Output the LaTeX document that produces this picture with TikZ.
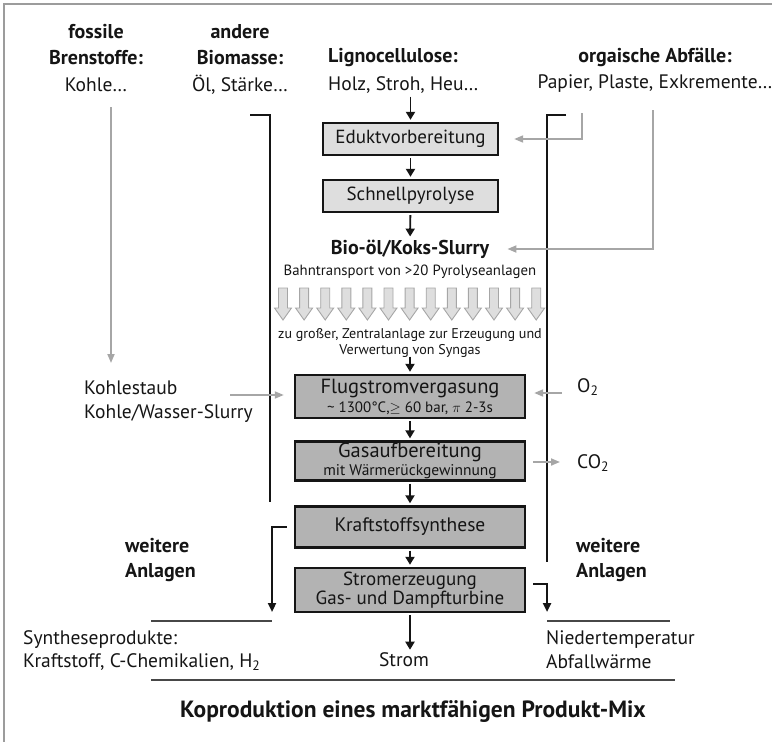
\documentclass[tikz,border=0pt]{standalone}
\usepackage{fontspec}
\setmainfont{PT Sans}
\usepackage{tikz}
\usetikzlibrary{arrows.meta,positioning,calc}
\definecolor{cInk}{HTML}{151515}
\definecolor{cArr}{HTML}{A6A6A6}
\definecolor{cLight}{HTML}{DEDEDE}
\definecolor{cMid}{HTML}{B3B3B3}
\definecolor{cRule}{HTML}{474747}
\definecolor{cFrame}{HTML}{9C9C9C}
\tikzset{
  >=Stealth,
  lab/.style  ={font=\fontsize{19.5}{22}\selectfont,inner sep=1pt,text=cInk},
  hdr/.style  ={lab,font=\fontsize{20}{22}\selectfont\bfseries},
  sml/.style  ={font=\fontsize{14.8}{16.5}\selectfont,inner sep=1pt,text=cInk,align=center},
  lbox/.style ={draw=cInk,line width=2.4pt,fill=cLight,minimum width=175pt,
                minimum height=32pt,font=\fontsize{19}{20}\selectfont,
                inner sep=1.5pt,align=center,text=cInk},
  gbox/.style ={lbox,fill=cMid,minimum width=230pt},
  ar/.style   ={-{Triangle[length=8pt,width=9pt]},line width=1.9pt,cInk,
                shorten <=2pt,shorten >=2pt},
  gar/.style  ={-{Triangle[length=9pt,width=7pt]},line width=1.8pt,cArr},
  brk/.style  ={line width=2.3pt,cInk},
  bar/.style  ={brk,-{Triangle[length=9pt,width=8pt]}},
  rule/.style ={line width=2.6pt,cRule},
  hollow/.style={draw=cArr,fill=cLight,line width=0.9pt,line join=miter},
}
\begin{document}
\begin{tikzpicture}[x=1pt,y=-1pt]
\useasboundingbox (0,0) rectangle (772,742);
\draw[cFrame,line width=1.2pt] (4,742) -- (4,4) -- (772,4);

% raw materials
\node[hdr] (fosT) at (96,32) {fossile};
\node[hdr] (fosB) at (96,58) {Brenstoffe:};
\node[lab] (fosK) at (96,85) {Kohle…};
\node[hdr] (bioT) at (240,32) {andere};
\node[hdr] (bioB) at (240,58) {Biomasse:};
\node[lab] (bioK) at (240,85) {Öl, Stärke…};
\node[hdr,anchor=west] (ligB) at (327,58) {Lignocellulose:};
\node[lab,anchor=west] (ligK) at (327,85) {Holz, Stroh, Heu…};
\node[hdr] (orgB) at (655,57) {orgaische Abfälle:};
\node[lab] (orgK) at (655,84) {Papier, Plaste, Exkremente…};

% main process chain
\node[lbox] (edukt) at (410.5,139) {Eduktvorbereitung};
\node[lbox] (pyro)  at (410.5,196) {Schnellpyrolyse};
\node[hdr]  (slurry) at (410,249) {Bio-öl/Koks-Slurry};
\node[sml]  (bahn)  at (410,272) {Bahntransport von >20 Pyrolyseanlagen};
\node[sml,font=\fontsize{14.1}{16}\selectfont] (syng) at (410,343)
  {zu großer, Zentralanlage zur Erzeugung und\\Verwertung von Syngas};
\node[gbox,minimum height=43pt,font=\fontsize{20.5}{19}\selectfont] (flug) at (410,396.5)
  {Flugstromvergasung\\{\fontsize{15}{16}\selectfont \textasciitilde{} 1300°C,$\geq$ 60 bar, $\pi$ 2-3s}};
\node[gbox,minimum height=38pt,font=\fontsize{20.5}{18}\selectfont] (gas) at (410,461)
  {Gasaufbereitung\\{\fontsize{15.5}{16}\selectfont mit Wärmerückgewinnung}};
\node[gbox,minimum height=41pt,font=\fontsize{19.5}{20}\selectfont] (kraft) at (410,527)
  {Kraftstoffsynthese};
\node[gbox,minimum height=44pt,font=\fontsize{19}{19}\selectfont] (strom) at (410,590)
  {Stromerzeugung\\Gas- und Dampfturbine};
\node[lab] (stromOut) at (404,660) {Strom};

\draw[ar] (ligK.south -| edukt.north) -- (edukt);
\draw[ar] (edukt) -- (pyro);
\draw[ar] (pyro) -- (slurry);
\draw[ar] (syng.south) ++(0,-4) -- (flug);
\draw[ar] (flug) -- (gas);
\draw[ar] (gas) -- (kraft);
\draw[ar] (kraft) -- (strom);
\draw[ar] (strom.south) -- (strom.south |- stromOut.north);

% rail transport arrows
\foreach \i in {0,...,12}{
  \pgfmathsetmacro{\xa}{283+21.1*\i}
  \draw[hollow] (\xa-4.5,288) -- (\xa+4.5,288) -- (\xa+4.5,308) -- (\xa+8.5,308)
    -- (\xa,320) -- (\xa-8.5,308) -- (\xa-4.5,308) -- cycle;
}

% brackets
\draw[brk] (250,115) -- (270,115) -- (270,502);
\draw[brk] (566,115) -- (547,115) -- (547,562);

% feeds from the side
\coordinate (fosTop) at (111,107);
\coordinate (fosEnd) at (111,363);
\draw[gar] (fosTop) -- (fosEnd);
\node[lab,anchor=west] (kstaub) at (83,388) {Kohlestaub};
\node[lab,anchor=west] (kslurry) at (83,414) {Kohle/Wasser-Slurry};
\coordinate (kIn) at (230,395);
\draw[gar,shorten >=10pt] (kIn) -- (kIn -| flug.west);
\coordinate (papA) at (582,113);
\coordinate (papB) at (653,110);
\draw[gar,shorten >=15pt] (papA) |- (edukt.east);
\draw[gar,shorten >=17pt] (papB) |- (slurry.east);
\node[lab,anchor=west] (o2) at (576,387) {O\textsubscript{2}};
\node[lab,anchor=west] (co2) at (576,463) {CO\textsubscript{2}};
\draw[gar,shorten <=14pt,shorten >=8pt] (o2.west |- 0,393) -- (flug.east |- 0,393);
\draw[gar,shorten <=7pt,shorten >=16pt] (gas.east |- 0,462) -- (co2.west |- 0,462);

% outputs
\coordinate (lOut) at (272,612);
\coordinate (rOut) at (547,612);
\draw[bar,shorten <=7pt] (kraft.west) -| (lOut);
\draw[bar,shorten <=7pt] (strom.east |- 0,584) -| (rOut);
\node[hdr,anchor=west] (wl1) at (124,546) {weitere};
\node[hdr,anchor=west] (wl2) at (124,573) {Anlagen};
\node[hdr,anchor=west] (wr1) at (575,546) {weitere};
\node[hdr,anchor=west] (wr2) at (575,573) {Anlagen};
\draw[rule] (151,621) -- (272,621);
\draw[rule] (547,621) -- (670,621);
\draw[rule] (151,680) -- (675,680);
\node[lab,anchor=west] (syn1) at (22,640) {Syntheseprodukte:};
\node[lab,anchor=west] (syn2) at (22,662) {Kraftstoff, C-Chemikalien, H\textsubscript{2}};
\node[lab,anchor=west] (nt1) at (545,640) {Niedertemperatur};
\node[lab,anchor=west] (nt2) at (545,662) {Abfallwärme};
\node[hdr,font=\fontsize{23.5}{26}\selectfont\bfseries] (mix) at (413,712)
  {Koproduktion eines marktfähigen Produkt-Mix};
\end{tikzpicture}
\end{document}
